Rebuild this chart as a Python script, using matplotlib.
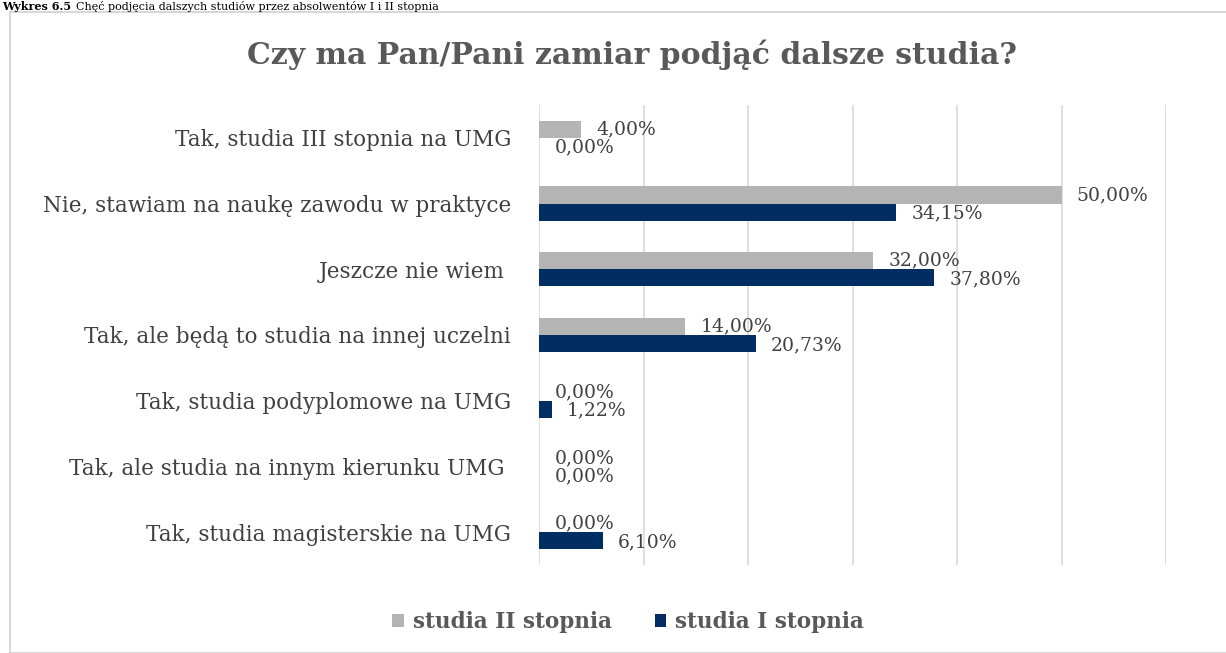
import matplotlib.pyplot as plt
from matplotlib.patches import Rectangle
import numpy as np

categories = [
    "Tak, studia III stopnia na UMG",
    "Nie, stawiam na naukę zawodu w praktyce",
    "Jeszcze nie wiem ",
    "Tak, ale będą to studia na innej uczelni",
    "Tak, studia podyplomowe na UMG",
    "Tak, ale studia na innym kierunku UMG ",
    "Tak, studia magisterskie na UMG",
]
studia_II = [4.00, 50.00, 32.00, 14.00, 0.00, 0.00, 0.00]
studia_I = [0.00, 34.15, 37.80, 20.73, 1.22, 0.00, 6.10]

gray = "#B4B4B4"
navy = "#002D62"
txt = "#404040"

plt.rcParams['font.family'] = ['DejaVu Serif']

fig = plt.figure(figsize=(12.26, 6.53), dpi=100)
fig.patches.append(Rectangle((10 / 1226, 0), 1.0, 1 - 12 / 653, transform=fig.transFigure,
                             fill=False, edgecolor="#D0D0D0", linewidth=1.2))
fig.text(0.002, 0.999, "Wykres 6.5", fontsize=8, fontweight="bold", va="top", ha="left")
fig.text(0.062, 0.999, "Chęć podjęcia dalszych studiów przez absolwentów I i II stopnia",
         fontsize=8, va="top", ha="left")

ax = fig.add_axes([539 / 1226, 1 - 565 / 653, (1166 - 539) / 1226, (565 - 105) / 653])

y = np.arange(len(categories))
h = 0.26
ax.barh(y - h / 2, studia_II, height=h, color=gray, label="studia II stopnia")
ax.barh(y + h / 2, studia_I, height=h, color=navy, label="studia I stopnia")

for i in range(len(categories)):
    ax.annotate(f"{studia_II[i]:.2f}%".replace(".", ","), (studia_II[i], y[i] - h / 2),
                xytext=(11, 0), textcoords="offset points", va="center", ha="left",
                fontsize=13.5, color=txt)
    ax.annotate(f"{studia_I[i]:.2f}%".replace(".", ","), (studia_I[i], y[i] + h / 2),
                xytext=(11, -1), textcoords="offset points", va="center", ha="left",
                fontsize=13.5, color=txt)

ax.set_xlim(0, 60)
ax.set_ylim(len(categories) - 0.5, -0.5)
ax.set_xticks(np.arange(0, 61, 10))
ax.set_xticklabels([])
ax.tick_params(axis="x", length=0)
ax.tick_params(axis="y", length=0, pad=20)
ax.set_yticks(y)
ax.set_yticklabels(categories, fontsize=15.5, color=txt)
ax.grid(axis="x", color="#D9D9D9", linewidth=1.2)
ax.set_axisbelow(True)
for s in ax.spines.values():
    s.set_visible(False)

fig.text(632 / 1226, 1 - 55 / 653, "Czy ma Pan/Pani zamiar podjąć dalsze studia?",
         fontsize=21.5, fontweight="bold", color="#595959", ha="center", va="center")

leg = fig.legend(loc="center", bbox_to_anchor=(628 / 1226, 1 - 622 / 653), ncol=2, frameon=False,
                 prop={"size": 15.5, "weight": "bold"}, handlelength=0.55, handleheight=0.55,
                 columnspacing=2.0, handletextpad=0.4)
for t in leg.get_texts():
    t.set_color("#595959")

fig.savefig("out.png", dpi=100)
